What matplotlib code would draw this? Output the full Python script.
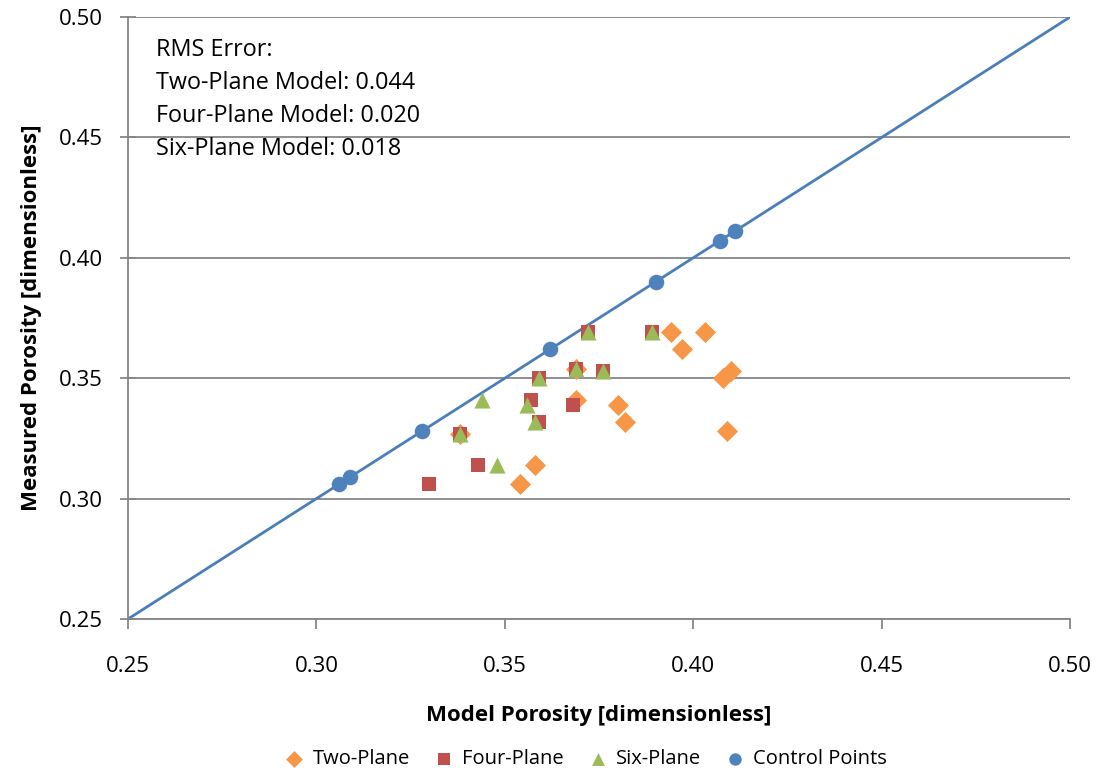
import matplotlib
matplotlib.use('Agg')
import matplotlib.pyplot as plt

plt.rcParams['font.family'] = ['Open Sans', 'DejaVu Sans']

# Measured vs model porosity.
two_x = [0.354, 0.358, 0.338, 0.369, 0.380, 0.382, 0.369, 0.394, 0.403, 0.397, 0.408, 0.410, 0.409]
two_y = [0.306, 0.314, 0.327, 0.341, 0.339, 0.332, 0.354, 0.369, 0.369, 0.362, 0.350, 0.353, 0.328]
four_x = [0.330, 0.343, 0.338, 0.357, 0.359, 0.359, 0.368, 0.369, 0.372, 0.376, 0.389]
four_y = [0.306, 0.314, 0.327, 0.341, 0.332, 0.350, 0.339, 0.354, 0.369, 0.353, 0.369]
six_x = [0.338, 0.348, 0.344, 0.356, 0.358, 0.359, 0.369, 0.372, 0.376, 0.389]
six_y = [0.327, 0.314, 0.341, 0.339, 0.332, 0.350, 0.354, 0.369, 0.353, 0.369]
ctrl_x = [0.306, 0.309, 0.328, 0.362, 0.390, 0.407, 0.411]
ctrl_y = [0.306, 0.309, 0.328, 0.362, 0.390, 0.407, 0.411]
line_xy = [0.25, 0.50]
ticks = [0.25, 0.30, 0.35, 0.40, 0.45, 0.50]
rms_lines = ['RMS Error:', 'Two-Plane Model: 0.044', 'Four-Plane Model: 0.020', 'Six-Plane Model: 0.018']

fig = plt.figure(figsize=(11.02, 7.74), dpi=100)
ax = fig.add_axes([0.1162, 0.2003, 0.971 - 0.1162, 0.978 - 0.2003])

grid_c = '#868686'
ax.plot(line_xy, line_xy, color='#4A7EBB', lw=2, zorder=2)
ax.scatter(two_x, two_y, marker='D', s=115, color='#F79646', label='Two-Plane', zorder=3, linewidths=0)
ax.scatter(four_x, four_y, marker='s', s=110, color='#C0504D', label='Four-Plane', zorder=4, linewidths=0)
ax.scatter(six_x, six_y, marker='^', s=135, color='#9BBB59', label='Six-Plane', zorder=5, linewidths=0)
ax.scatter(ctrl_x, ctrl_y, marker='o', s=125, color='#4F81BD', label='Control Points', zorder=6, linewidths=0)

ax.set_xlim(0.25, 0.50)
ax.set_ylim(0.25, 0.50)
ax.set_xticks(ticks)
ax.set_yticks(ticks)
ax.set_xticklabels([f'{t:.2f}' for t in ticks])
ax.set_yticklabels([f'{t:.2f}' for t in ticks])
ax.yaxis.grid(True, color=grid_c, lw=1.3)
ax.set_axisbelow(True)
for s in ['top', 'right']:
    ax.spines[s].set_visible(False)
for s in ['left', 'bottom']:
    ax.spines[s].set_color(grid_c)
    ax.spines[s].set_linewidth(1.3)
ax.tick_params(axis='x', direction='out', length=7, width=1.3, color=grid_c, labelsize=16, pad=20)
ax.tick_params(axis='y', direction='inout', length=12, width=1.3, color=grid_c, labelsize=16, pad=12)

ax.set_xlabel('Model Porosity [dimensionless]', fontsize=16, fontweight='bold', labelpad=20)
ax.set_ylabel('Measured Porosity [dimensionless]', fontsize=16, fontweight='bold', labelpad=12)

for i, t in enumerate(rms_lines):
    ax.text(0.2575, 0.4865 - i * 0.01375, t, fontsize=16.8, va='center', ha='left')

fig.legend(loc='center', bbox_to_anchor=(0.527, 0.019), ncol=4, frameon=False,
           fontsize=14.5, handletextpad=-0.1, columnspacing=0.7, scatterpoints=1,
           markerscale=0.8)

fig.savefig('out.png', dpi=100)
